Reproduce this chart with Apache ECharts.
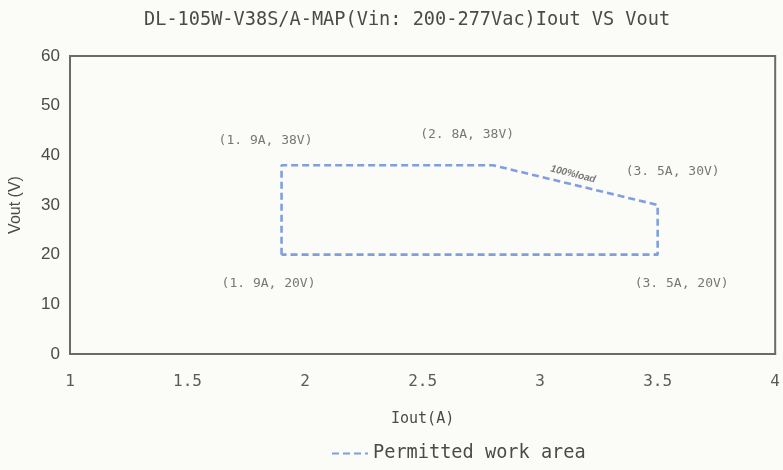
<!DOCTYPE html>
<html><head><meta charset="utf-8">
<script src="https://cdn.jsdelivr.net/npm/echarts@6/dist/echarts.min.js"></script>
<style>html,body{margin:0;padding:0;background:#fbfbf7}#c{width:783px;height:470px}</style>
</head><body><div id="c"></div>
<script>
const titleText = 'DL-105W-V38S/A-MAP(Vin: 200-277Vac)Iout VS Vout';
const xTicks = [1, 1.5, 2, 2.5, 3, 3.5, 4];
const yTicks = [0, 10, 20, 30, 40, 50, 60];
const areaI = [1.9, 1.9, 2.8, 3.5, 3.5, 1.9];
const areaV = [20, 38, 38, 30, 20, 20];
const pointLabels = ['(1. 9A, 38V)', '(2. 8A, 38V)', '(3. 5A, 30V)', '(1. 9A, 20V)', '(3. 5A, 20V)'];
const pointI = [1.9, 2.8, 3.5, 1.9, 3.5];
const pointV = [38, 38, 30, 20, 20];
const loadNote = '100%load';
const loadNoteAt = [3.14, 36.2];
const seriesName = 'Permitted work area';

const labelOffsets = [[-16, -25], [-26, -31], [15, -33], [-13, 29], [24, 29]];
const mono = '"DejaVu Sans Mono", "Liberation Mono", monospace';
const sans = '"Liberation Sans", Arial, sans-serif';

const chart = echarts.init(document.getElementById('c'));
chart.setOption({
  backgroundColor: '#fbfbf7',
  animation: false,
  title: {
    text: titleText, left: 139, top: 6,
    textStyle: { fontFamily: mono, fontSize: 18.6, fontWeight: 'normal', color: '#4a4a4a' }
  },
  grid: { left: 67, right: 6, top: 56, bottom: 116, show: true, borderColor: '#6a6a6a', borderWidth: 2, backgroundColor: 'transparent' },
  legend: {
    left: 326, bottom: 2, itemWidth: 36, itemHeight: 10, itemGap: 6,
    data: [seriesName],
    itemStyle: { opacity: 0 },
    textStyle: { fontFamily: mono, fontSize: 18.6, color: '#4a4a4a' }
  },
  xAxis: {
    type: 'value', min: 1, max: 4, interval: 0.5,
    name: 'Iout(A)', nameLocation: 'middle', nameGap: 58,
    nameTextStyle: { fontFamily: mono, fontSize: 15, color: '#4a4a4a' },
    axisLine: { show: true, lineStyle: { color: '#6a6a6a', width: 2 } },
    axisTick: { show: false }, splitLine: { show: false },
    axisLabel: { margin: 20, fontSize: 16, color: '#5a5a5a', fontFamily: mono,
      formatter: v => xTicks.includes(v) ? String(v) : '' }
  },
  yAxis: {
    type: 'value', min: 0, max: 60, interval: 10,
    name: 'Vout (V)', nameLocation: 'middle', nameGap: 46,
    nameTextStyle: { fontFamily: sans, fontSize: 16, color: '#4a4a4a' },
    axisLine: { show: true, lineStyle: { color: '#6a6a6a', width: 2 } },
    axisTick: { show: false }, splitLine: { show: false },
    axisLabel: { margin: 10, fontSize: 17, color: '#4a4a4a', fontFamily: sans,
      formatter: v => yTicks.includes(v) ? String(v) : '' }
  },
  series: [
    {
      name: seriesName, type: 'line', symbol: 'none',
      data: areaI.map((x, i) => [x, areaV[i]]),
      lineStyle: { color: '#7f9fdf', width: 2.6, type: [7, 4] },
      itemStyle: { color: '#7f9fdf' }
    },
    {
      type: 'scatter', symbolSize: 0, silent: true, legendHoverLink: false,
      data: pointI.map((x, i) => ({
        value: [x, pointV[i]],
        label: { show: true, formatter: pointLabels[i], offset: labelOffsets[i], position: 'inside',
          fontFamily: mono, fontSize: 13, color: '#555' }
      }))
    },
    {
      type: 'scatter', symbolSize: 0, silent: true,
      data: [{ value: loadNoteAt, label: { show: true, formatter: loadNote, position: 'inside', rotate: -14,
        fontFamily: sans, fontSize: 10, fontStyle: 'italic', fontWeight: 'bold', color: '#555' } }]
    }
  ]
});
</script></body></html>
